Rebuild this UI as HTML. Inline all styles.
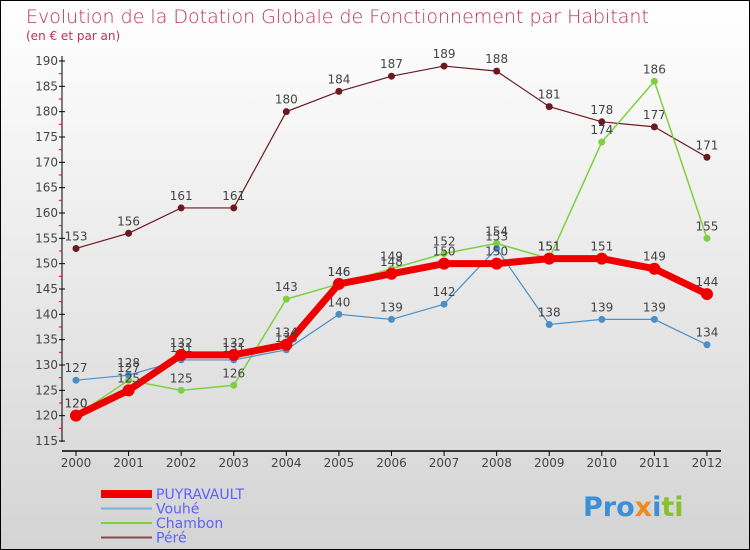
<!DOCTYPE html>
<html><head><meta charset="utf-8"><style>
body{margin:0}
#c{width:750px;height:550px;position:relative;overflow:hidden;font-family:"DejaVu Sans","Liberation Sans",sans-serif;box-sizing:border-box;border:1px solid #000;background:linear-gradient(#fff,#d4d4d4)}
text{font-family:"DejaVu Sans","Liberation Sans",sans-serif}
</style></head><body>
<div id="c">
<svg width="750" height="550" id="s">
<text x="25" y="22" font-size="19" fill="#c0305a" font-weight="200">Evolution de la Dotation Globale de Fonctionnement par Habitant</text>
<text x="25" y="39" font-size="12" fill="#c0305a">(en € et par an)</text>
<g id="axes"></g><g id="marks"></g>
<g id="leg"></g>
<text x="582" y="515" font-size="27" font-weight="bold"><tspan fill="#3a8fd8">Pro</tspan><tspan fill="#f08a20">x</tspan><tspan fill="#3a8fd8">i</tspan><tspan fill="#8ac030">ti</tspan></text>
</svg></div>
<script>
const years=[2000,2001,2002,2003,2004,2005,2006,2007,2008,2009,2010,2011,2012];
const yTicks=[115,120,125,130,135,140,145,150,155,160,165,170,175,180,185,190];
const puyravault=[120,125,132,132,134,146,148,150,150,151,151,149,144];
const vouhe=[127,128,131,131,133,140,139,142,153,138,139,139,134];
const chambon=[120,127,125,126,143,146,149,152,154,151,174,186,155];
const pere=[153,156,161,161,180,184,187,189,188,181,178,177,171];
const NS="http://www.w3.org/2000/svg";
const X=i=>75+i*52.58, Y=v=>440-(v-115)*380/75;
function mk(t,a,p){const e=document.createElementNS(NS,t);for(const k in a)e.setAttribute(k,a[k]);p.appendChild(e);return e;}
const ax=document.getElementById('axes'),mg=document.getElementById('marks');
let l=mk('line',{x1:61,y1:55,x2:61,y2:441,stroke:'#000'},ax);

l=mk('line',{x1:61,y1:450,x2:720,y2:450,stroke:'#000','stroke-width':1.5},ax);

yTicks.forEach(v=>{mk('line',{x1:58,x2:64,y1:Y(v),y2:Y(v),stroke:'#000'},ax);
 if(v<190)mk('line',{x1:58,x2:61,y1:Y(v+2.5),y2:Y(v+2.5),stroke:'#e00'},ax);
 const t=mk('text',{x:57,y:Y(v)+4,'font-size':12,'text-anchor':'end',fill:'#444'},ax);t.textContent=v;
 });
years.forEach((y,i)=>{mk('line',{x1:X(i),x2:X(i),y1:450,y2:455,stroke:'#000'},ax);
 const t=mk('text',{x:X(i),y:466,'font-size':12,'text-anchor':'middle',fill:'#444'},ax);t.textContent=y;
 });
const series=[[pere,'#6b1a22',1.2,3.5,'pere'],[chambon,'#7fd040',1.5,3.5,'chambon'],[vouhe,'#4a90c8',1.2,3.5,'vouhe'],[puyravault,'#ee0000',7,6,'puyravault']];
series.forEach(([d,c,w,r,n])=>{
 const p=mk('polyline',{points:d.map((v,i)=>X(i)+','+Y(v)).join(' '),fill:'none',stroke:c,'stroke-width':w},mg);
 
 d.forEach((v,i)=>{const ci=mk('circle',{cx:X(i),cy:Y(v),r:r,fill:c},mg);
  
  const t=mk('text',{x:X(i),y:Y(v)-8,'font-size':12,'text-anchor':'middle',fill:'#444'},mg);t.textContent=v;
  });
});
const lg=document.getElementById('leg');
[['PUYRAVAULT','#ee0000',8],['Vouhé','#7aaed8',2],['Chambon','#7fd040',2],['Péré','#8b4a4a',2]].forEach(([n,c,w],i)=>{
 const y=493+i*14.5;
 mk('line',{x1:100,x2:151,y1:y,y2:y,stroke:c,'stroke-width':w},lg);
 const t=mk('text',{x:155,y:y+5,'font-size':14,fill:'#6060ff'},lg);t.textContent=n;
 });
</script>
</body></html>
